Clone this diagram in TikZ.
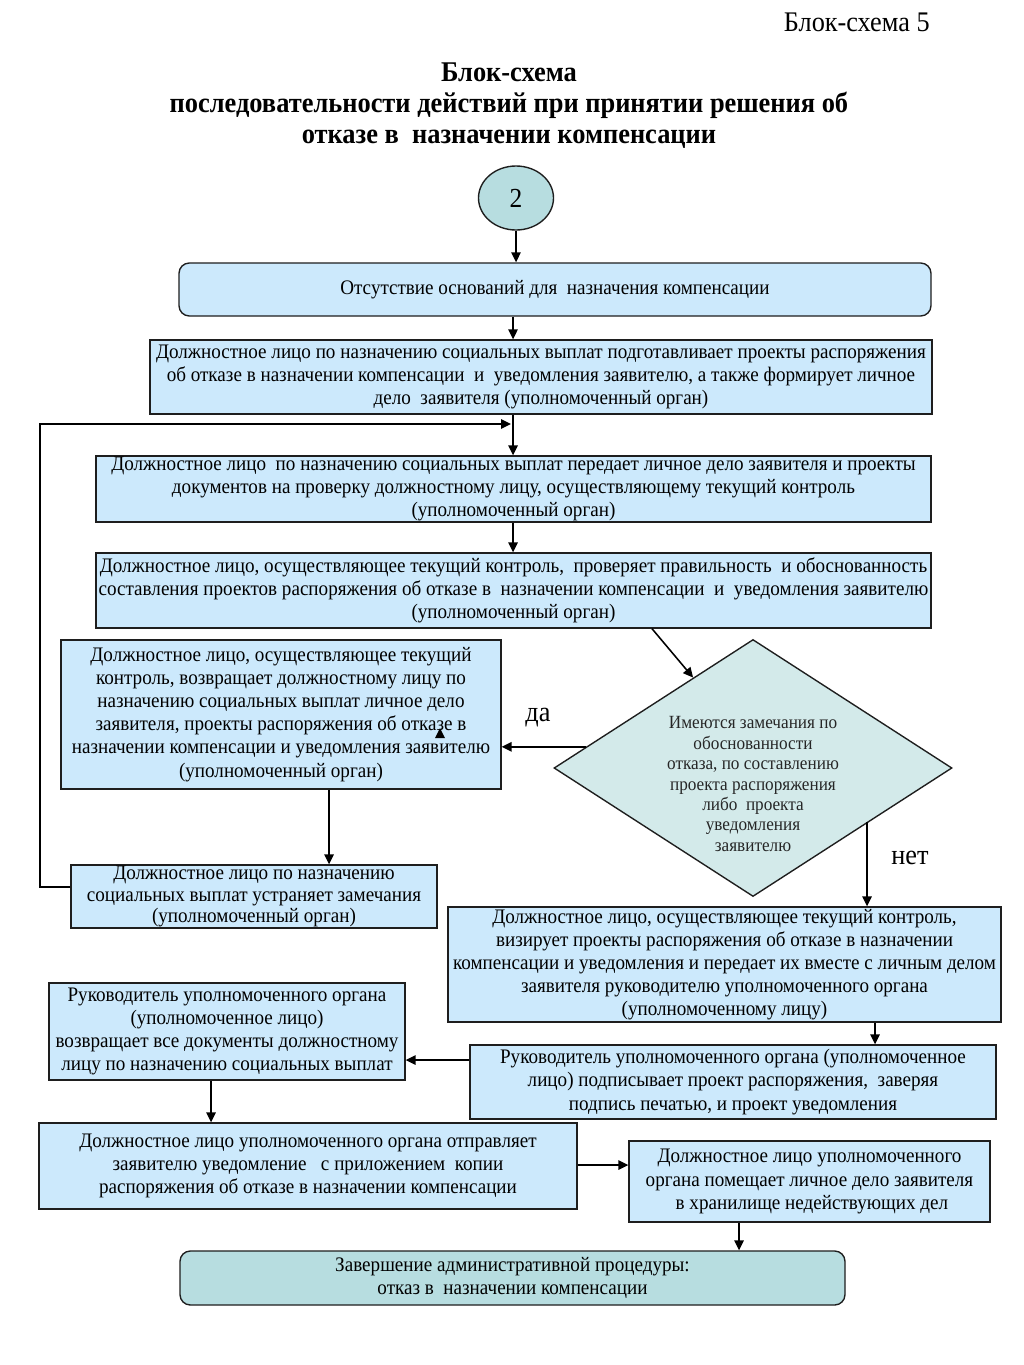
\documentclass[tikz,border=0pt]{standalone}
\usepackage{fontspec}
\setmainfont{Liberation Serif}[FakeStretch=0.925]
\usetikzlibrary{arrows.meta,shapes.geometric,calc}
\definecolor{boxblue}{RGB}{204,233,252}
\definecolor{tealc}{RGB}{183,221,224}
\definecolor{diac}{RGB}{211,234,234}
\definecolor{linec}{RGB}{30,30,30}
\newcommand\mainfnt{\fontsize{12pt}{13.4pt}\selectfont}
\newcommand\diafnt{\fontsize{10.8pt}{11.9pt}\selectfont}
\newcommand\titlefnt{\fontsize{16.6pt}{18pt}\selectfont\bfseries}
\newcommand\hdrfnt{\fontsize{16.5pt}{18pt}\selectfont}
\newcommand\lblfnt{\fontsize{16.5pt}{18pt}\selectfont}
\tikzset{
  sz/.style 2 args={minimum width=#1*0.5811pt, minimum height=#2*0.5811pt},
  box/.style={rectangle, draw=linec, line width=0.8pt, fill=boxblue, inner sep=0pt, align=center, font=\mainfnt},
  rbox/.style={box, rounded corners=6pt},
  tbox/.style={box, rounded corners=6pt, fill=tealc},
  dia/.style={diamond, draw=linec, line width=0.8pt, fill=diac, inner sep=0pt},
  diatext/.style={align=center, font=\diafnt, inner sep=0pt, text=black!85},
  arr/.style={draw=black, line width=0.9pt, -{Triangle[length=5.8pt,width=5.5pt]}},
  lbl/.style={font=\lblfnt, inner sep=0pt}
}
\begin{document}
\begin{tikzpicture}[x=0.5811pt, y=-0.5811pt]
\useasboundingbox (0,0) rectangle (1024,1365);
\fill[white] (0,0) rectangle (1024,1365);

\node[font=\hdrfnt, anchor=east, inner sep=0pt] (hdr) at (930,22) {Блок-схема 5};
\node[font=\titlefnt, align=center, inner sep=0pt] (title) at (509,106) {Блок-схема\\последовательности действий при принятии решения об\\отказе в\ \ назначении компенсации};

\node[ellipse, draw=linec, line width=0.8pt, fill=tealc, sz={75}{64}, inner sep=0pt, font=\fontsize{16pt}{18pt}\selectfont] (c) at (516,198) {2};

\node[rbox, sz={752}{53}] (b2) at (555,289.5) {Отсутствие оснований для\ \ назначения компенсации};

\node[box, sz={782}{74}] (b3) at (541,377) {Должностное лицо по назначению социальных выплат подготавливает проекты распоряжения\\об отказе в назначении компенсации\ \ и\ \ уведомления заявителю, а также формирует личное\\дело\ \ заявителя (уполномоченный орган)};

\node[box, sz={835}{66}] (b4) at (513.5,489) {Должностное лицо\ \ по назначению социальных выплат передает личное дело заявителя и проекты\\документов на проверку должностному лицу, осуществляющему текущий контроль\\(уполномоченный орган)};

\node[box, sz={835}{75}] (b5) at (513.5,590.5) {Должностное лицо, осуществляющее текущий контроль,\ \ проверяет правильность\ \ и обоснованность\\составления проектов распоряжения об отказе в\ \ назначении компенсации\ \ и\ \ уведомления заявителю\\(уполномоченный орган)};

\node[box, sz={440}{149}] (b6) at (281,714.5) {Должностное лицо, осуществляющее текущий\\контроль, возвращает должностному лицу по\\назначению социальных выплат личное дело\\заявителя, проекты распоряжения об отказе в\\назначении компенсации и уведомления заявителю\\(уполномоченный орган)};

\node[dia, sz={398}{257}] (d) at (753,768) {};
\node[diatext] (dt) at ([yshift=-16*0.5811pt]d.center) {Имеются замечания по\\обоснованности\\отказа, по составлению\\проекта распоряжения\\либо\ \ проекта\\уведомления\\заявителю};

\node[box, sz={366}{63}, font=\fontsize{12pt}{12.6pt}\selectfont] (b8) at (254,896.5) {Должностное лицо по назначению\\социальных выплат устраняет замечания\\(уполномоченный орган)};

\node[box, sz={553}{115}] (b9) at (724.5,964.5) {Должностное лицо, осуществляющее текущий контроль,\\визирует проекты распоряжения об отказе в назначении\\компенсации и уведомления и передает их вместе с личным делом\\заявителя руководителю уполномоченного органа\\(уполномоченному лицу)};

\node[box, sz={356}{97}] (b10) at (227,1031.5) {Руководитель уполномоченного органа\\(уполномоченное лицо)\\возвращает все документы должностному\\лицу по назначению социальных выплат};

\node[box, sz={526}{74}] (b11) at (733,1082) {Руководитель уполномоченного органа (уполномоченное\\лицо) подписывает проект распоряжения,\ \ заверяя\\подпись печатью, и проект уведомления};

\node[box, sz={538}{86}] (b12) at (308,1166) {Должностное лицо уполномоченного органа отправляет\\заявителю уведомление\ \ \ с приложением\ \ копии\\распоряжения об отказе в назначении компенсации};

\node[box, sz={361}{81}] (b13) at (809.5,1181.5) {Должностное лицо уполномоченного\\органа помещает личное дело заявителя\\\ в хранилище недействующих дел};

\node[tbox, sz={665}{54}] (e) at (512.5,1278) {Завершение административной процедуры:\\отказ в\ \ назначении компенсации};

% connectors
\coordinate (mx) at (513,0);
\draw[arr] (c.south) -- (c.south |- b2.north);
\draw[arr] (mx |- b2.south) -- (mx |- b3.north);
\draw[arr] (mx |- b3.south) -- (mx |- b4.north);
\draw[arr] (mx |- b4.south) -- (mx |- b5.north);

% feedback loop
\coordinate (lj) at (511,424);
\draw[arr] ([yshift=5.5pt]b8.west) -| (40,424) -- (lj);

% b5 -> diamond
\draw[arr] ([xshift=138.5*0.5811pt]b5.south) -- ($(d.north)!0.3!(d.west)$);

% diamond -> b6 (да)
\coordinate (dy) at ($(d.west)!0.164!(d.north)$);
\draw[arr] (dy) -- (dy -| b6.east);
\node[lbl] (da) at (538,718) {да};

% diamond -> b9 (нет)
\coordinate (dn) at ([xshift=114*0.5811pt, yshift=-54*0.5811pt]d.center);
\draw[arr] (dn) -- (dn |- b9.north);
\node[lbl] (net) at (910,858) {нет};

% stray arrowhead
\fill (435,738) -- (445,738) -- (440,728) -- cycle;

% b6 -> b8
\draw[arr] ([xshift=48*0.5811pt]b6.south) -- ([xshift=75*0.5811pt]b8.north);

% b9 -> b11
\draw[arr] ([xshift=150.5*0.5811pt]b9.south) -- ([xshift=150.5*0.5811pt]b9.south |- b11.north);

% b11 -> b10
\coordinate (ry) at (0,1060);
\draw[arr] (ry -| b11.west) -- (ry -| b10.east);

% b10 -> b12
\coordinate (rx) at (211,0);
\draw[arr] (rx |- b10.south) -- (rx |- b12.north);

% b12 -> b13
\coordinate (sy) at (0,1165);
\draw[arr] (sy -| b12.east) -- (sy -| b13.west);

% b13 -> end
\coordinate (tx) at (739,0);
\draw[arr] (tx |- b13.south) -- (tx |- e.north);
\end{tikzpicture}
\end{document}
